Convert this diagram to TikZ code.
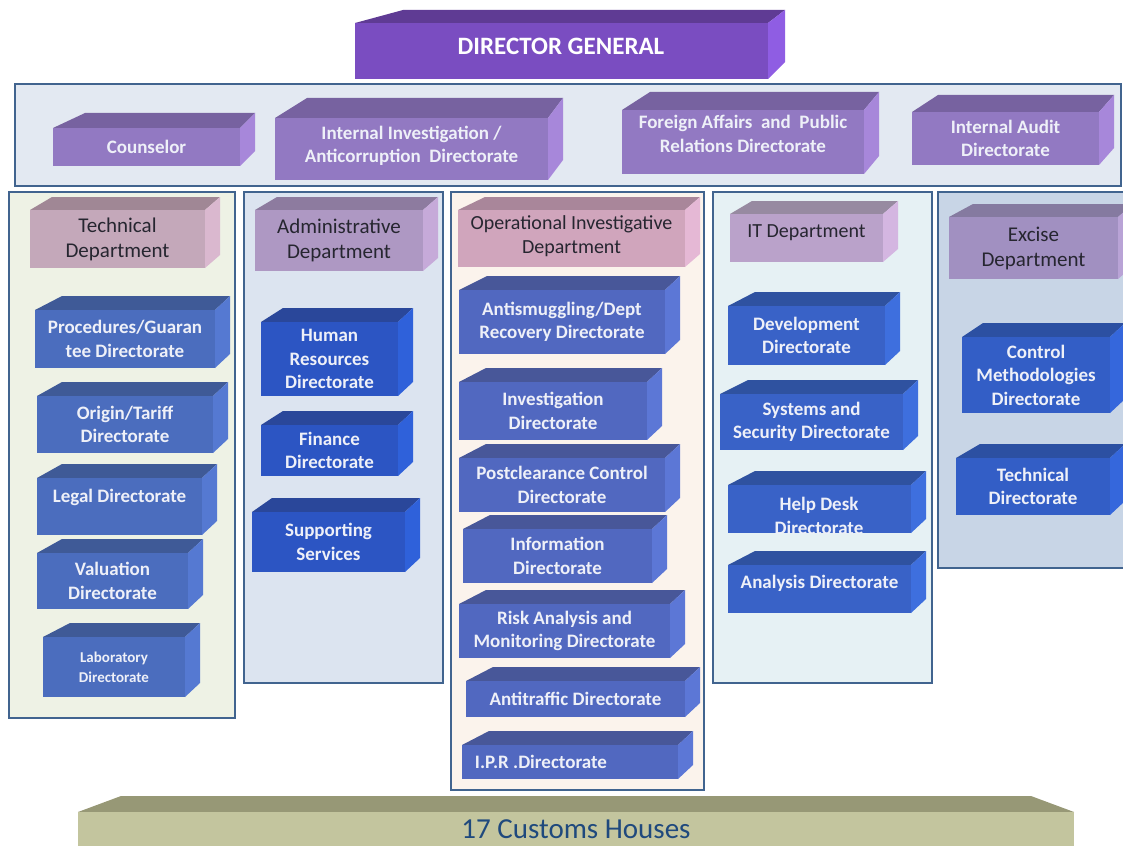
\documentclass[tikz,border=0pt]{standalone}
\usepackage{fontspec}
\setmainfont{Carlito}

\definecolor{edge}{HTML}{41648F}
\definecolor{bandfill}{HTML}{E3E9F2}
\definecolor{colA}{HTML}{EEF2E5}
\definecolor{colB}{HTML}{DCE4F0}
\definecolor{colC}{HTML}{FBF3EC}
\definecolor{colD}{HTML}{E6F1F4}
\definecolor{colE}{HTML}{C8D5E6}
\definecolor{dgfront}{HTML}{7A4DC1}
\definecolor{dgtop}{HTML}{5F3B94}
\definecolor{dgside}{HTML}{8F5DE3}
\definecolor{prfront}{HTML}{9279C2}
\definecolor{prtop}{HTML}{7762A0}
\definecolor{prside}{HTML}{A787DA}
\definecolor{thfront}{HTML}{C4A8BA}
\definecolor{thtop}{HTML}{A08795}
\definecolor{thside}{HTML}{DAB8CF}
\definecolor{ahfront}{HTML}{AE98C3}
\definecolor{ahtop}{HTML}{8D7B9F}
\definecolor{ahside}{HTML}{C6AAD9}
\definecolor{ohfront}{HTML}{D0A5BC}
\definecolor{ohtop}{HTML}{A9869A}
\definecolor{ohside}{HTML}{E5B8D5}
\definecolor{ihfront}{HTML}{BAA2CA}
\definecolor{ihtop}{HTML}{978AA1}
\definecolor{ihside}{HTML}{D4B6E1}
\definecolor{ehfront}{HTML}{A190C1}
\definecolor{ehtop}{HTML}{857AA0}
\definecolor{ehside}{HTML}{B9A3D6}
\definecolor{btfront}{HTML}{4B6DBE}
\definecolor{bttop}{HTML}{3F5A97}
\definecolor{btside}{HTML}{5579D2}
\definecolor{bafront}{HTML}{2C55C3}
\definecolor{batop}{HTML}{2A479A}
\definecolor{baside}{HTML}{2F61DA}
\definecolor{bofront}{HTML}{5168C0}
\definecolor{botop}{HTML}{485799}
\definecolor{boside}{HTML}{5C77D6}
\definecolor{bifront}{HTML}{3962C7}
\definecolor{bitop}{HTML}{2F52A0}
\definecolor{biside}{HTML}{3E6FDE}
\definecolor{befront}{HTML}{335EC6}
\definecolor{betop}{HTML}{2C50A2}
\definecolor{beside}{HTML}{3567DC}
\definecolor{chfront}{HTML}{C3C59E}
\definecolor{chtop}{HTML}{979876}
\definecolor{hdtxt}{HTML}{262630}
\definecolor{lighttxt}{HTML}{EEF0F8}
\definecolor{custxt}{HTML}{1F497D}

\newcommand{\deph}{14}
\newcommand{\depr}{15}
% [back shift left]{colours}{name}{x1}{y1}{x2}{y2}{text style}{text}
\newcommand{\blok}[9][27]{%
  \fill[#2top] (#4,#5) -- ++(#1,-\deph) -- ({#6+\depr},{#5-\deph}) -- (#6,#5) -- cycle;
  \fill[#2side] (#6,#5) -- ({#6+\depr},{#5-\deph}) -- ({#6+\depr},{#7-\deph}) -- (#6,#7) -- cycle;
  \fill[#2front] (#4,#5) rectangle (#6,#7);
  \node[#8] (#3) at ({(#4+#6)/2},{(#5+#7)/2}) {#9};
}

\tikzset{
  panel/.style={draw=edge, line width=2.5pt},
  wt/.style={text=lighttxt, font=\bfseries\fontsize{19}{23.5}\selectfont, align=center},
  ht/.style={text=hdtxt, font=\fontsize{21}{25}\selectfont, align=center},
}

\begin{document}
\begin{tikzpicture}[x=1pt, y=-1pt]
    \clip (0,0) rectangle (1123,845);

    \draw[panel, fill=bandfill] (15,84) rectangle (1121,186);
    \draw[panel, fill=colA] (9,192) rectangle (235,718);
    \draw[panel, fill=colB] (244,192) rectangle (443,683);
    \draw[panel, fill=colC] (451,192) rectangle (704,790);
    \draw[panel, fill=colD] (713,192) rectangle (932,683);
    \draw[panel, fill=colE] (938,192) rectangle (1135,568);

    \fill[dgtop] (355,23) -- (403,10) -- (785,10) -- (768,23) -- cycle;
    \fill[dgside] (768,23) -- (785,10) -- (785,62) -- (768,79) -- cycle;
    \fill[dgfront] (355,23) rectangle (768,79);
    \node[text=white, font=\bfseries\fontsize{25}{28}\selectfont] (dg) at (561,46) {DIRECTOR GENERAL};

    \renewcommand{\deph}{15}
    \blok[32]{pr}{couns}{53}{128}{240}{166}{wt}{Counselor}
    \renewcommand{\deph}{20}
    \blok[32]{pr}{intinv}{275}{118}{548}{180}{wt, yshift=3}{Internal Investigation /\\Anticorruption\ \ Directorate}
    \renewcommand{\deph}{18}
    \blok[28]{pr}{foreign}{622}{110}{864}{174}{wt, yshift=8}{Foreign Affairs\ \ and\ \ Public\\Relations Directorate}
    \renewcommand{\deph}{17}
    \blok[26]{pr}{audit}{912}{112}{1099}{165}{wt}{Internal Audit\\Directorate}

    \renewcommand{\deph}{13}
    \blok[22]{th}{techdep}{30}{210}{205}{268}{ht}{Technical\\Department}
    \blok[22]{ah}{admdep}{255}{210}{423}{271}{ht}{Administrative\\Department}
    \blok{oh}{opdep}{458}{210}{685}{267}{ht, font=\fontsize{20}{24}\selectfont, yshift=2}{Operational Investigative\\Department}
    \blok[22]{ih}{itdep}{730}{214}{883}{262}{ht, font=\fontsize{20}{24}\selectfont, yshift=5}{IT Department}
    \blok[24]{eh}{exdep}{949}{217}{1118}{279}{ht}{Excise\\Department}

    \renewcommand{\deph}{14}
    \blok{bt}{proc}{35}{310}{215}{368}{wt}{Procedures/Guaran\\tee Directorate}
    \blok[25]{bt}{orig}{37}{396}{213}{453}{wt}{Origin/Tariff\\Directorate}
    \blok[25]{bt}{legal}{37}{478}{202}{535}{wt, yshift=9}{Legal Directorate}
    \blok[25]{bt}{valu}{37}{553}{188}{609}{wt}{Valuation\\Directorate}
    \blok{bt}{lab}{43}{637}{185}{697}{wt, font=\bfseries\fontsize{15}{20}\selectfont}{Laboratory\\Directorate}

    \blok[22]{ba}{hr}{261}{322}{398}{396}{wt}{Human\\Resources\\Directorate}
    \blok[22]{ba}{fin}{261}{425}{398}{476}{wt}{Finance\\Directorate}
    \blok[20]{ba}{supp}{252}{512}{405}{572}{wt}{Supporting\\Services}

    \blok[28]{bo}{smug}{459}{290}{665}{354}{wt}{Antismuggling/Dept\\Recovery Directorate}
    \blok{bo}{inv}{459}{382}{647}{440}{wt}{Investigation\\Directorate}
    \blok{bo}{post}{459}{458}{665}{512}{wt}{Postclearance Control\\Directorate}
    \blok{bo}{info}{463}{529}{652}{583}{wt}{Information\\Directorate}
    \blok{bo}{risk}{459}{604}{670}{658}{wt}{Risk Analysis and\\Monitoring Directorate}
    \blok{bo}{traf}{466}{681}{685}{717}{wt}{Antitraffic Directorate}
    \blok{bo}{ipr}{462}{745}{678}{779}{wt, xshift=-29}{I.P.R .Directorate}

    \blok{bi}{dev}{728}{306}{885}{365}{wt}{Development\\Directorate}
    \blok[28]{bi}{sys}{720}{394}{903}{450}{wt}{Systems and\\Security Directorate}
    \blok{bi}{help}{728}{485}{911}{533}{}{}
    \begin{scope}
        \clip (728,485) rectangle (911,533);
        \node[wt] (helptxt) at (819,516) {Help Desk\\Directorate};
    \end{scope}
    \blok{bi}{anal}{728}{565}{911}{613}{wt, yshift=6}{Analysis Directorate}

    \blok[21]{be}{ctrl}{962}{337}{1110}{413}{wt}{Control\\Methodologies\\Directorate}
    \blok[24]{be}{techdir}{956}{458}{1110}{515}{wt}{Technical\\Directorate}

    \fill[chtop] (78,812) -- (121,796) -- (1031,796) -- (1074,812) -- cycle;
    \fill[chfront] (78,812) rectangle (1074,850);
    \node[text=custxt, font=\fontsize{29}{31}\selectfont] (houses) at (576,829) {17 Customs Houses};
\end{tikzpicture}
\end{document}
